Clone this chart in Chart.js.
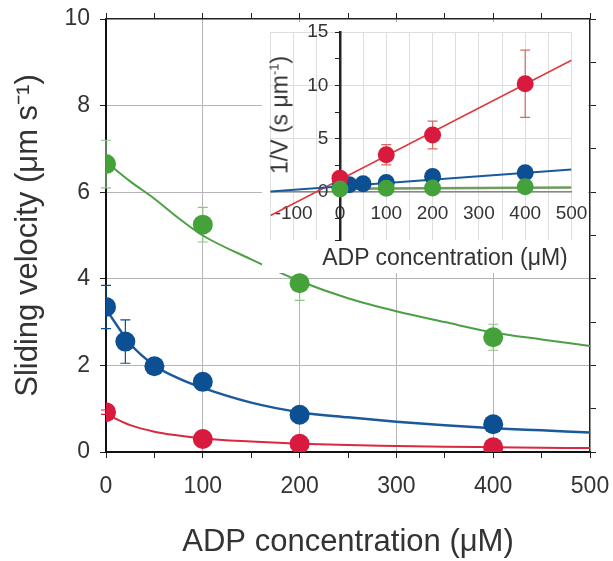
<!DOCTYPE html>
<html>
<head>
<meta charset="utf-8">
<script src="https://cdn.jsdelivr.net/npm/chart.js@4.4.1/dist/chart.umd.min.js"></script>
<style>
  html, body { margin: 0; padding: 0; background: #fff; }
  #wrap { position: relative; width: 613px; height: 561px; overflow: hidden; }
  #main { position: absolute; left: 0; top: 0; }
  #inset { position: absolute; left: 262px; top: 22px; background: #fff; }
  .lbl { position: absolute; font-family: "Liberation Sans", Arial, sans-serif; font-size: 23px;
         color: #333; white-space: nowrap; transform: translate(-50%, -50%); }
  .lbl sup { font-size: 13px; }
</style>
</head>
<body>
<div id="wrap">
  <canvas id="main" width="613" height="561"></canvas>
  <canvas id="inset" width="326" height="251"></canvas>
  <div class="lbl" style="left:445px;top:257px">ADP concentration (μM)</div>
  <div class="lbl" style="left:280px;top:115px;transform:translate(-50%,-50%) rotate(-90deg)">1/V (s μm<sup>-1</sup>)</div>
</div>
<script>
// measured points (main panel)
const adpX = [0, 100, 200, 400];
const adpBlueX = [0, 20, 50, 100, 200, 400];
const greenV = [6.65, 5.25, 3.9, 2.65];
const greenErr = [0.55, 0.4, 0.4, 0.3];
const blueV = [3.35, 2.55, 1.98, 1.62, 0.86, 0.64];
const blueErr = [0.5, 0.5, 0.12, 0.1, 0.1, 0.08];
const redV = [0.92, 0.3, 0.19, 0.11];
const redErr = [0.05, 0.04, 0.03, 0.03];

// fitted curves
const fitX = [0, 25, 50, 75, 100, 150, 200, 250, 300, 350, 400, 450, 500];
const greenFit = [6.7, 6.25, 5.85, 5.4, 5.0, 4.45, 3.95, 3.55, 3.25, 3.0, 2.76, 2.6, 2.45];
const blueFit = [3.3, 2.5, 2.0, 1.7, 1.48, 1.14, 0.92, 0.8, 0.7, 0.62, 0.55, 0.5, 0.45];
const redFit = [0.88, 0.62, 0.47, 0.38, 0.31, 0.24, 0.19, 0.16, 0.14, 0.12, 0.11, 0.1, 0.09];

// inset: 1/V
const invRed = [1.3, 3.5, 5.35, 10.15];
const invRedErr = [0.3, 0.95, 1.3, 3.15];
const invBlue = [0.5, 0.68, 0.78, 0.9, 1.45, 1.8];
const invGreen = [0.28, 0.35, 0.37, 0.5];
const lineX = [-150, 500];
const redLine = [-2.2, 12.35];
const blueLine = [0.05, 2.1];
const greenLineX = [0, 500];
const greenLine = [0.3, 0.42];

const GREEN = "#45a23b", BLUE = "#0d4f93", RED = "#d81a3e";

Chart.defaults.font.family = '"Liberation Sans", Arial, sans-serif';
Chart.defaults.color = "#333";

const pts = (xs, ys) => xs.map((x, i) => ({ x: x, y: ys[i] }));
const noPad = (s) => { s.paddingTop = 0; s.paddingBottom = 0; s.paddingLeft = 0; s.paddingRight = 0; };

const errorBars = {
    id: "errorBars",
    beforeDatasetsDraw(chart) {
        const ctx = chart.ctx;
        chart.data.datasets.forEach((ds) => {
            if (!ds.errors) return;
            const xs = chart.scales.x, ys = chart.scales.y;
            ctx.save();
            ctx.strokeStyle = ds.errorColor;
            ctx.lineWidth = 1.2;
            ds.data.forEach((p, j) => {
                const e = ds.errors[j];
                if (!e) return;
                const px = xs.getPixelForValue(p.x);
                const top = ys.getPixelForValue(p.y + e);
                const bot = ys.getPixelForValue(p.y - e);
                ctx.beginPath();
                ctx.moveTo(px, top); ctx.lineTo(px, bot);
                ctx.moveTo(px - 5, top); ctx.lineTo(px + 5, top);
                ctx.moveTo(px - 5, bot); ctx.lineTo(px + 5, bot);
                ctx.stroke();
            });
            ctx.restore();
        });
    }
};

const pointSet = (data, color, r, errors, errorColor) => ({
    type: "scatter", data: data, showLine: false,
    pointRadius: r, pointHoverRadius: r, backgroundColor: color, borderWidth: 0,
    errors: errors, errorColor: errorColor
});
const curveSet = (data, color, w) => ({
    type: "line", data: data, borderColor: color, borderWidth: w,
    pointRadius: 0, fill: false, tension: 0.4, cubicInterpolationMode: "monotone"
});

new Chart(document.getElementById("main"), {
    type: "scatter",
    data: {
        datasets: [
            pointSet(pts(adpX, redV), RED, 10, redErr, RED),
            pointSet(pts(adpBlueX, blueV), BLUE, 10, blueErr, BLUE),
            pointSet(pts(adpX, greenV), GREEN, 10, greenErr, "#8cc784"),
            curveSet(pts(fitX, redFit), "#d9283f", 2),
            curveSet(pts(fitX, blueFit), "#1a5a9c", 2.5),
            curveSet(pts(fitX, greenFit), "#4d9f45", 2)
        ]
    },
    options: {
        responsive: false, animation: false, devicePixelRatio: 1,
        layout: { padding: 0 },
        plugins: { legend: { display: false }, tooltip: { enabled: false } },
        scales: {
            x: {
                type: "linear", position: "bottom", min: 0, max: 500,
                afterFit: (s) => { s.height = 109; noPad(s); },
                ticks: {
                    stepSize: 50, autoSkip: false, maxRotation: 0, padding: 15,
                    font: { size: 23 }, color: "#333",
                    callback: (v) => (v % 100 === 0 ? String(v) : "")
                },
                grid: {
                    color: (c) => (c.tick && c.tick.value % 100 === 0 && c.tick.value > 0 && c.tick.value < 500 ? "#b5b5b5" : "rgba(0,0,0,0)"),
                    tickColor: "#222", tickLength: 6, lineWidth: 1
                },
                border: { color: "#111", width: 2 },
                title: { display: true, text: "ADP concentration (μM)", font: { size: 31 }, color: "#333", padding: { top: 0, bottom: 0 } }
            },
            y: {
                type: "linear", position: "left", min: 0, max: 10,
                afterFit: (s) => { s.width = 106; noPad(s); },
                ticks: { stepSize: 2, padding: 10, font: { size: 23 }, color: "#333" },
                grid: {
                    color: (c) => (c.tick && c.tick.value > 0 && c.tick.value < 10 ? "#b5b5b5" : "rgba(0,0,0,0)"),
                    tickColor: "#222", tickLength: 6, lineWidth: 1
                },
                border: { color: "#111", width: 2 },
                title: { display: true, text: "Sliding velocity (μm s⁻¹)", font: { size: 31 }, color: "#333", padding: { top: 10, bottom: 0 } }
            },
            x2: {
                type: "linear", axis: "x", position: "top", min: 0, max: 500,
                afterFit: (s) => { s.height = 19; noPad(s); },
                ticks: { display: false, stepSize: 50 },
                grid: { drawOnChartArea: false, tickColor: "#222", tickLength: 6 },
                border: { color: "#222", width: 1.5 }
            },
            y2: {
                type: "linear", axis: "y", position: "right", min: 0, max: 10,
                afterFit: (s) => { s.width = 23; noPad(s); },
                ticks: { display: false, stepSize: 1 },
                grid: { drawOnChartArea: false, tickColor: "#222", tickLength: 6 },
                border: { color: "#222", width: 1.5 }
            }
        }
    },
    plugins: [errorBars]
});

new Chart(document.getElementById("inset"), {
    type: "scatter",
    data: {
        datasets: [
            pointSet(pts(adpX, invGreen), GREEN, 8.5),
            pointSet(pts(adpX, invRed), RED, 8.5, invRedErr, "#d86a5e"),
            pointSet(pts(adpBlueX, invBlue), BLUE, 8.5),
            curveSet(pts(greenLineX, greenLine), "#6f9a60", 2.5),
            curveSet(pts(lineX, blueLine), "#1a5a9c", 2),
            curveSet(pts(lineX, redLine), "#e0383c", 1.5)
        ]
    },
    options: {
        responsive: false, animation: false, devicePixelRatio: 1,
        layout: { padding: { left: 2, right: 16.5, top: 10, bottom: 33 } },
        plugins: { legend: { display: false }, tooltip: { enabled: false } },
        scales: {
            x: {
                type: "linear", position: { y: 0 }, min: -150, max: 500,
                afterFit: noPad,
                ticks: {
                    stepSize: 50, autoSkip: false, maxRotation: 0, padding: 10,
                    font: { size: 19 }, color: "#333",
                    callback: (v) => (v % 100 === 0 ? String(v) : "")
                },
                grid: { color: "#dedede", drawTicks: false },
                border: { color: "#888", width: 1.5 }
            },
            y: {
                type: "linear", position: { x: -25 }, min: -4.5, max: 15,
                afterFit: noPad,
                ticks: {
                    stepSize: 5, font: { size: 19 }, color: "#333",
                    callback: (v) => (v >= 0 ? String(v) : "")
                },
                grid: {
                    color: (c) => (c.tick && c.tick.value >= 0 ? "#dedede" : "rgba(0,0,0,0)"),
                    drawTicks: false
                },
                border: { display: false }
            },
            y0: {
                type: "linear", axis: "y", position: { x: 0 }, min: -4.5, max: 15,
                afterFit: noPad,
                ticks: { display: false, stepSize: 2.5 },
                grid: { drawOnChartArea: false, tickColor: "#222", tickLength: 4 },
                border: { color: "#222", width: 2.5 }
            }
        }
    },
    plugins: [errorBars]
});
</script>
</body>
</html>
